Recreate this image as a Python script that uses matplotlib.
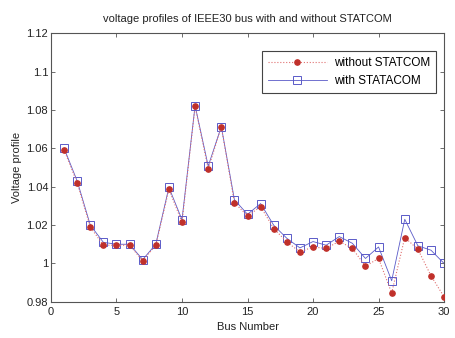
import matplotlib
matplotlib.use('Agg')
import matplotlib.pyplot as plt
import numpy as np

plt.rcParams['font.family'] = ['Liberation Sans', 'DejaVu Sans']
plt.rcParams['font.size'] = 8

# bus numbers 1..30
bus = np.arange(1, 31)

# voltage without STATCOM (red dots)
v_without = [1.0592, 1.042, 1.019, 1.0095, 1.0095, 1.0095, 1.0014, 1.0095, 1.0386, 1.0215,
             1.0819, 1.0493, 1.0712, 1.0317, 1.0247, 1.0296, 1.0182, 1.0112, 1.006, 1.0086,
             1.0078, 1.0116, 1.0078, 0.9986, 1.0026, 0.9846, 1.0135, 1.0074, 0.9936, 0.9826]

# voltage with STATCOM (blue squares)
v_with = [1.06, 1.043, 1.020, 1.011, 1.010, 1.010, 1.002, 1.010, 1.0396, 1.0228,
          1.0822, 1.0507, 1.0713, 1.0332, 1.0256, 1.0312, 1.0199, 1.0131, 1.0081, 1.0114,
          1.0095, 1.014, 1.0105, 1.0026, 1.0086, 0.991, 1.023, 1.0092, 1.0069, 1.000]

fig = plt.figure(figsize=(4.55, 3.38), dpi=100)
ax = fig.add_axes([0.112, 0.107, 0.864, 0.795])

ax.plot(bus, v_without, linestyle=':', color='#e07070', linewidth=0.8,
        marker='o', markersize=3.8, markerfacecolor='#c0302a', markeredgecolor='#c0302a',
        label='without STATCOM', zorder=3)
ax.plot(bus, v_with, linestyle='-', color='#5a5ac8', linewidth=0.6,
        marker='s', markersize=5.2, markerfacecolor='none', markeredgecolor='#5a5ac8',
        markeredgewidth=0.7, label='with STATACOM', zorder=2)

ax.set_xlim(0, 30)
ax.set_ylim(0.98, 1.12)
ax.set_xticks([0, 5, 10, 15, 20, 25, 30])
ax.set_yticks([0.98, 1.0, 1.02, 1.04, 1.06, 1.08, 1.1, 1.12])
ax.set_yticklabels(['0.98', '1', '1.02', '1.04', '1.06', '1.08', '1.1', '1.12'])
ax.tick_params(direction='in', top=True, right=True, length=3, width=0.6,
               color='#555555', labelcolor='#222222', pad=2)
ax.tick_params(axis='x', pad=4)
for s in ax.spines.values():
    s.set_color('#555555')
    s.set_linewidth(0.8)

ax.set_xlabel('Bus Number', labelpad=3, color='#222222')
ax.set_ylabel('Voltage profile', labelpad=3, color='#222222')
ax.set_title('voltage profiles of IEEE30 bus with and without STATCOM', fontsize=8, pad=8,
             color='#222222')

leg = ax.legend(loc='upper right', bbox_to_anchor=(0.995, 0.955), fancybox=False,
                framealpha=1, edgecolor='#444444', borderpad=0.5, handlelength=5.0,
                handletextpad=0.6, labelspacing=0.5, fontsize=8.5)
leg.get_frame().set_linewidth(0.8)

fig.savefig('out.png', dpi=100)
